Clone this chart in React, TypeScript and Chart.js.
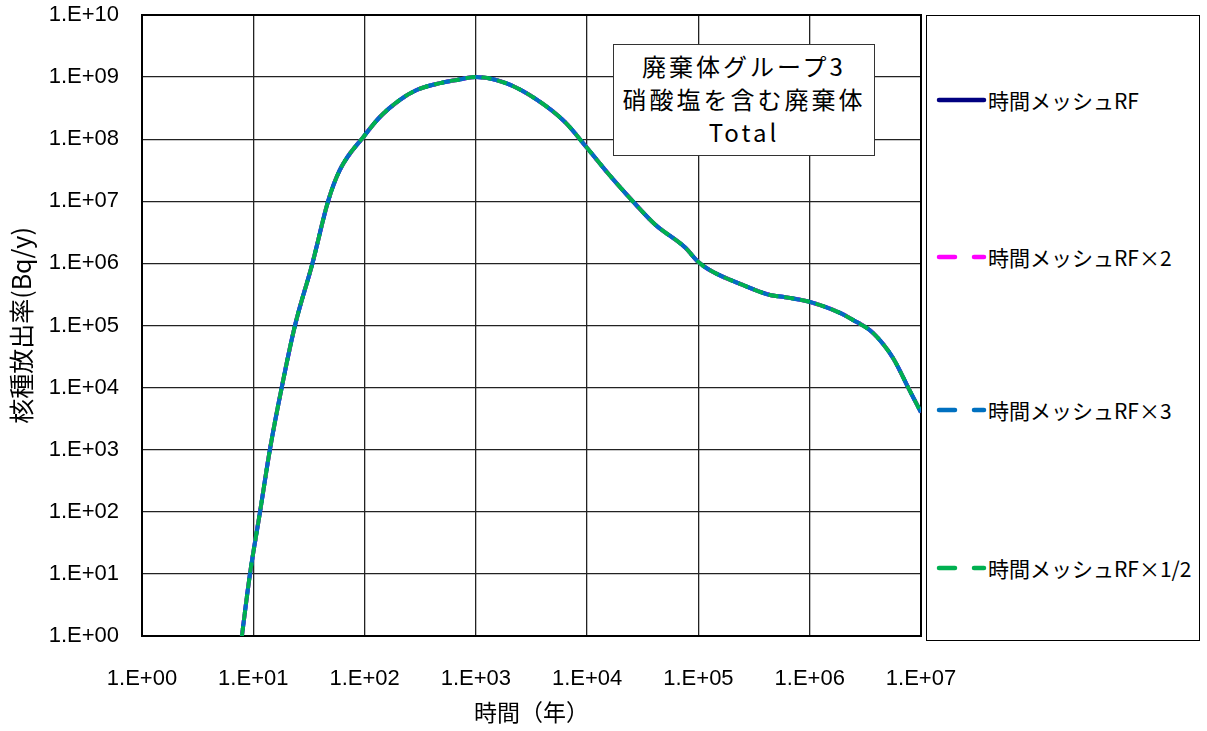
import React, { useEffect, useRef } from "react";
import { Chart, registerables } from "chart.js";

Chart.register(...registerables);

// Time (years)
const years: number[] = [
  7.9, 9.34, 11.5, 14.1, 18.0, 23.7, 34, 47, 60, 100, 138, 208, 294, 478, 676,
  1000, 1890, 3550, 6300, 10000, 16000, 26000, 41000, 76000, 100000, 126000,
  250000, 440000, 570000, 1000000, 1870000, 2450000, 3700000, 5600000, 7900000,
  10000000,
];

// Nuclide release rate (Bq/y) — all four time-mesh cases coincide
const rateRF: number[] = [
  1, 10, 100, 1e3, 1e4, 1e5, 1e6, 1e7, 3.2e7, 1.15e8, 2.3e8, 4.3e8, 6.2e8, 8e8,
  9e8, 1e9, 7.9e8, 4.3e8, 1.9e8, 7.2e7, 2.6e7, 9.8e6, 4.2e6, 1.8e6, 1.05e6,
  7.8e5, 4.5e5, 3.1e5, 2.9e5, 2.4e5, 1.6e5, 1.23e5, 7.6e4, 3e4, 9e3, 4e3,
];
const rateRFx2: number[] = rateRF.slice();
const rateRFx3: number[] = rateRF.slice();
const rateRFhalf: number[] = rateRF.slice();

const seriesNames: string[] = [
  "時間メッシュRF",
  "時間メッシュRF×2",
  "時間メッシュRF×3",
  "時間メッシュRF×1/2",
];
const seriesColors: string[] = ["#000080", "#FF00FF", "#0070C0", "#00B050"];

const xTickValues: number[] = [1, 10, 100, 1e3, 1e4, 1e5, 1e6, 1e7];
const xTickLabels: string[] = [
  "1.E+00", "1.E+01", "1.E+02", "1.E+03", "1.E+04", "1.E+05", "1.E+06", "1.E+07",
];
const yTickValues: number[] = [1, 10, 100, 1e3, 1e4, 1e5, 1e6, 1e7, 1e8, 1e9, 1e10];
const yTickLabels: string[] = [
  "1.E+00", "1.E+01", "1.E+02", "1.E+03", "1.E+04", "1.E+05", "1.E+06",
  "1.E+07", "1.E+08", "1.E+09", "1.E+10",
];

const xTitle = "時間（年）";
const yTitle = "核種放出率(Bq/y)";
const boxTitle: string[] = ["廃棄体グループ3", "硝酸塩を含む廃棄体", "Total"];

const LATIN = "'Liberation Sans', Arial, sans-serif";
const CJK = "'Noto Sans CJK JP', 'Liberation Sans', sans-serif";

const TARGET = { left: 142, top: 15, right: 921, bottom: 636 };

const borderPlugin = {
  id: "plotBorder",
  beforeDatasetsDraw(chart: any) {
    const { ctx, chartArea } = chart;
    ctx.save();
    ctx.strokeStyle = "#000";
    ctx.lineWidth = 2;
    ctx.strokeRect(chartArea.left, chartArea.top, chartArea.right - chartArea.left, chartArea.bottom - chartArea.top);
    ctx.restore();
  },
};

export default function App() {
  const ref = useRef<HTMLCanvasElement>(null);

  useEffect(() => {
    const canvas = ref.current;
    if (!canvas) return;
    const toPts = (ys: number[]) => years.map((x, i) => ({ x, y: ys[i] }));
    const mk = (i: number, ys: number[], dash: number[], offset: number, order: number) => ({
      label: seriesNames[i],
      data: toPts(ys),
      borderColor: seriesColors[i],
      backgroundColor: seriesColors[i],
      borderWidth: 4,
      borderDash: dash,
      borderDashOffset: offset,
      pointRadius: 0,
      cubicInterpolationMode: "monotone",
      fill: false,
      order,
    });
    const chart = new Chart(canvas, {
      type: "line",
      data: {
        datasets: [
          mk(0, rateRF, [], 0, 4),
          mk(1, rateRFx2, [10, 6], 4, 3),
          mk(2, rateRFx3, [10, 6], 9, 2),
          mk(3, rateRFhalf, [10, 6], 0, 1),
        ] as any,
      },
      options: {
        animation: false,
        responsive: false,
        maintainAspectRatio: false,
        layout: { padding: { left: 0, right: 286, top: 15, bottom: 0 } },
        plugins: { legend: { display: false }, tooltip: { enabled: false } },
        scales: {
          x: {
            type: "logarithmic",
            min: 1,
            max: 1e7,
            afterBuildTicks: (s: any) => {
              s.ticks = xTickValues.map((v) => ({ value: v }));
            },
            afterFit: (s: any) => {
              s.height = 95;
            },
            ticks: {
              autoSkip: false,
              maxRotation: 0,
              padding: 30,
              color: "#000",
              font: { family: LATIN, size: 22 },
              callback: (_v: any, i: number) => xTickLabels[i],
            },
            grid: { color: "#222", lineWidth: 1.3, drawTicks: false },
            border: { display: false },
            title: {
              display: true,
              text: xTitle,
              color: "#000",
              font: { family: CJK, size: 23 },
              padding: { top: 0, bottom: 5 },
            },
          },
          y: {
            type: "logarithmic",
            min: 1,
            max: 1e10,
            afterBuildTicks: (s: any) => {
              s.ticks = yTickValues.map((v) => ({ value: v }));
            },
            afterFit: (s: any) => {
              s.width = 142;
            },
            ticks: {
              autoSkip: false,
              padding: 0,
              color: "#000",
              font: { family: LATIN, size: 22 },
              callback: (_v: any, i: number) => yTickLabels[i],
            },
            grid: { color: "#222", lineWidth: 1.3, drawTicks: true, tickLength: 23, tickColor: "rgba(0,0,0,0)" },
            border: { display: false },
            title: {
              display: true,
              text: yTitle,
              color: "#000",
              font: { family: CJK, size: 25 },
              padding: { top: 6, bottom: 0 },
            },
          },
        },
      } as any,
      plugins: [borderPlugin],
    });

    // nudge the layout padding so that the plot area lands where the reference has it
    for (let k = 0; k < 4; k++) {
      const a = chart.chartArea;
      const p: any = (chart.options as any).layout.padding;
      const dl = a.left - TARGET.left;
      const dt = a.top - TARGET.top;
      const dr = a.right - TARGET.right;
      const db = a.bottom - TARGET.bottom;
      if (Math.abs(dl) < 0.5 && Math.abs(dt) < 0.5 && Math.abs(dr) < 0.5 && Math.abs(db) < 0.5) break;
      p.left -= dl;
      p.top -= dt;
      p.right += dr;
      p.bottom += db;
      chart.update();
    }
    return () => chart.destroy();
  }, []);

  const legendY = [100, 257, 410, 568];

  return (
    <div style={{ position: "fixed", left: 0, top: 0, width: 1207, height: 731, background: "#fff", overflow: "hidden" }}>
      <canvas ref={ref} width={1207} height={731} style={{ position: "absolute", left: 0, top: 0, width: 1207, height: 731 }} />
      <div
        style={{
          position: "absolute",
          left: 613,
          top: 44,
          width: 262,
          height: 112,
          boxSizing: "border-box",
          border: "1.5px solid #333",
          background: "#fff",
          fontFamily: CJK,
          fontSize: 24,
          letterSpacing: 3,
          lineHeight: "33px",
          textAlign: "center",
          paddingTop: 4,
          color: "#000",
        }}
      >
        {boxTitle.map((t, i) => (
          <div key={i} style={{ whiteSpace: "nowrap" }}>{t}</div>
        ))}
      </div>
      <div
        style={{
          position: "absolute",
          left: 926,
          top: 15,
          width: 274,
          height: 626,
          boxSizing: "border-box",
          border: "1.5px solid #000",
          background: "#fff",
        }}
      />
      {seriesNames.map((name, i) => (
        <div key={i} style={{ position: "absolute", left: 935, top: legendY[i] - 15, height: 30, display: "flex", alignItems: "center" }}>
          <svg width={53} height={10} style={{ display: "block" }}>
            {i === 0 ? (
              <line x1={4} y1={5} x2={49} y2={5} stroke={seriesColors[i]} strokeWidth={4.5} strokeLinecap="round" />
            ) : (
              <>
                <line x1={4} y1={5} x2={20} y2={5} stroke={seriesColors[i]} strokeWidth={4.5} strokeLinecap="round" />
                <line x1={39} y1={5} x2={49} y2={5} stroke={seriesColors[i]} strokeWidth={4.5} strokeLinecap="round" />
              </>
            )}
          </svg>
          <span style={{ fontFamily: CJK, fontSize: 21, color: "#000", whiteSpace: "nowrap", marginLeft: 0 }}>{name}</span>
        </div>
      ))}
    </div>
  );
}
